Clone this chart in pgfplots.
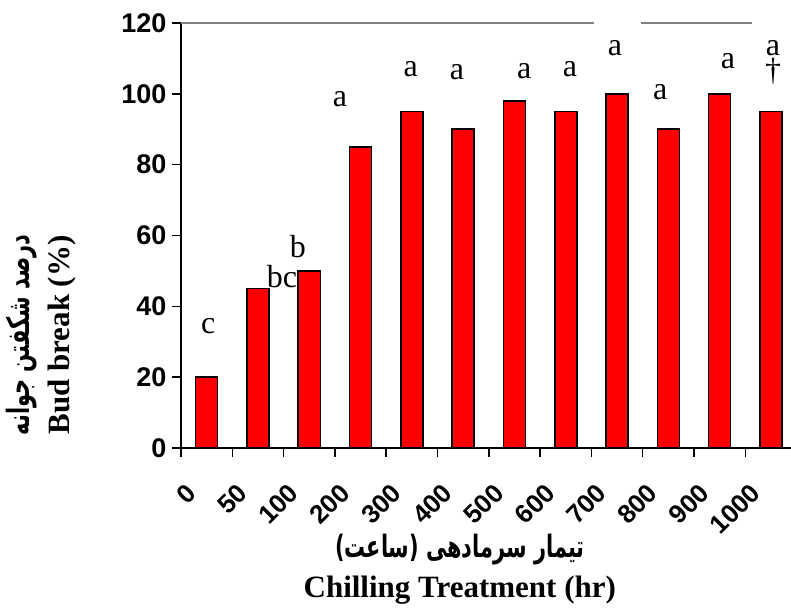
\documentclass[border=0pt]{standalone}
\usepackage{fontspec}
\setmainfont{Liberation Serif}
\newfontfamily\arial{Liberation Sans}
\newfontfamily\farsi[Script=Arabic]{DejaVu Sans}
\TeXXeTstate=1
\usepackage{pgfplots}
\pgfplotsset{compat=1.18}
\definecolor{topgray}{HTML}{808080}
% Persian line, slightly stretched upward like the original
\newcommand{\fa}[1]{\scalebox{0.95}[1.4]{\farsi\bfseries\fontsize{22}{22}\selectfont #1}}

\begin{document}
\begin{tikzpicture}
\begin{axis}[
    at={(181pt,165pt)}, anchor=south west,
    scale only axis, width=610pt, height=425pt,
    xmin=-0.5, xmax=11.39, ymin=0, ymax=120,
    axis lines*=left,
    axis line style={line width=1.5pt, black},
    ytick={0,20,...,120},
    xtick={0,...,11},
    xticklabels={0,50,100,200,300,400,500,600,700,800,900,1000},
    minor xtick={-0.5,0.5,...,10.5},
    major x tick style={draw=none},
    major tick length=9pt, minor tick length=9pt,
    tick align=outside,
    tick style={black, line width=1.5pt},
    /pgf/number format/assume math mode=true,
    yticklabel style={font=\arial\bfseries\fontsize{27}{27}\selectfont, xshift=-2pt},
    xticklabel style={font=\arial\bfseries\fontsize{26}{26}\selectfont,
        xshift=-13pt, yshift=-29pt, rotate=45, anchor=east},
    clip=false,
    ylabel={\fa{\beginR درصد شکفتن جوانه\endR}\\[6pt] Bud break (\%)},
    every axis y label/.style={at={(axis description cs:-0.2295,0.266)}, rotate=90,
        anchor=center, align=center, font=\bfseries\fontsize{31}{34}\selectfont},
    xlabel={\fa{\beginR تیمار سرمادهی  (ساعت)\endR}\\ Chilling Treatment (hr)},
    every axis x label/.style={at={(axis description cs:0.457,-0.285)},
        anchor=center, align=center, font=\bfseries\fontsize{31}{40}\selectfont},
]
\draw[topgray, line width=1.5pt] (axis cs:-0.5,120) -- (axis cs:7.55,120);
\draw[topgray, line width=1.5pt] (axis cs:8.47,120) -- (axis cs:10.63,120);

\addplot[ybar, bar width=0.43, fill=red, draw=black, line width=1.5pt] coordinates {
    (0,20) (1,45) (2,50) (3,85) (4,95) (5,90)
    (6,98) (7,95) (8,100) (9,90) (10,100) (11,95)
};

\addplot[only marks, mark=none, nodes near coords, point meta=explicit symbolic,
    every node near coord/.append style={anchor=center, inner sep=0pt,
        font=\fontsize{32}{32}\selectfont}] coordinates {
    (0.03,34.3)[c] (1.47,48.3)[bc] (1.78,57)[b] (2.6,98.5)[a]
    (3.98,107)[a] (4.88,106)[a] (6.19,106.5)[a] (7.08,107)[a]
    (7.96,113)[a] (8.84,100.4)[a] (10.16,109.3)[a] (11.04,113)[a]
    (11.04,106.5)[\textdagger]
};
\end{axis}
\pgfresetboundingbox
\path (0,0) rectangle (791pt,613pt);
\end{tikzpicture}
\end{document}
